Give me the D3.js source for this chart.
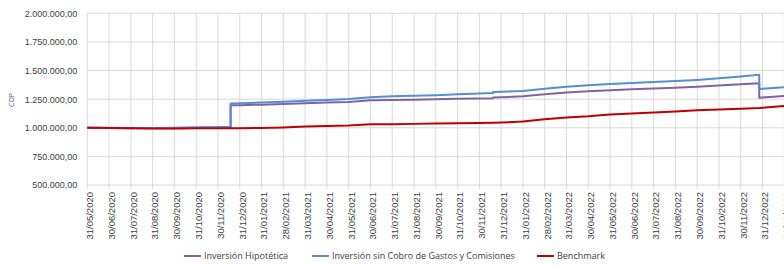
<!DOCTYPE html>
<html>
<head>
<meta charset="utf-8">
<script src="https://cdn.jsdelivr.net/npm/d3@7"></script>
<style>
  body { margin: 0; background: #fff; }
  svg { display: block; font-family: "Open Sans", "Liberation Sans", sans-serif; }
</style>
</head>
<body>
<svg id="chart"></svg>
<script>
// month-end labels on the category axis
var dateLabels = ["31/05/2020","30/06/2020","31/07/2020","31/08/2020","30/09/2020","31/10/2020","30/11/2020",
  "31/12/2020","31/01/2021","28/02/2021","31/03/2021","30/04/2021","31/05/2021","30/06/2021","31/07/2021",
  "31/08/2021","30/09/2021","31/10/2021","30/11/2021","31/12/2021","31/01/2022","28/02/2022","31/03/2022",
  "30/04/2022","31/05/2022","30/06/2022","31/07/2022","31/08/2022","30/09/2022","31/10/2022","30/11/2022",
  "31/12/2022","31/01/2023"]

var yTicks = [500000, 750000, 1000000, 1250000, 1500000, 1750000, 2000000]

// position along the axis, in months from 31/05/2020 (steps repeat a position)
var pos = [0,1,2,3,4,5,6,6.58,6.58,7,8,9,10,11,12,13,14,15,16,17,18,18.63,18.63,
  19,20,21,22,23,24,25,26,27,28,29,30,30.85,30.85,31,32]

var hipotetica = [1000000,999000,996000,995000,995000,997000,998000,999000,1196000,1197000,1202000,
  1208000,1214000,1220000,1226000,1240000,1243000,1245000,1249000,1253000,1256000,1258000,1264000,
  1266000,1275000,1292000,1308000,1318000,1328000,1336000,1342000,1350000,1358000,1370000,1380000,
  1388000,1262000,1265000,1277000]

var sinCobro = [1000000,1000000,998000,998000,1000000,1004000,1006000,1007000,1213000,1214000,1220000,
  1228000,1236000,1243000,1252000,1266000,1275000,1279000,1285000,1292000,1300000,1303000,1312000,
  1314000,1322000,1340000,1358000,1372000,1382000,1392000,1400000,1408000,1418000,1432000,1447000,
  1463000,1338000,1340000,1355000]

var benchmark = [1000000,999000,996000,994000,994000,995000,996000,996000,996000,996000,998000,
  1003000,1010000,1015000,1020000,1030000,1031000,1034000,1037000,1040000,1041000,1043000,1043000,
  1045000,1054000,1075000,1090000,1100000,1115000,1125000,1133000,1142000,1152000,1160000,1167000,
  1172000,1172000,1175000,1190000]

var seriesNames = ["Inversión Hipotética", "Inversión sin Cobro de Gastos y Comisiones", "Benchmark"]
var seriesColors = ["#8064a2", "#558ed5", "#c00000"]
var seriesValues = [hipotetica, sinCobro, benchmark]

var width = 784, height = 266
var plotLeft = 87.3, plotRight = 784.3, plotTop = 13.3, plotBottom = 185

var svg = d3.select("#chart")
    .attr("width", width)
    .attr("height", height)

var x = d3.scaleLinear().domain([0, 32]).range([plotLeft, plotRight])
var y = d3.scaleLinear().domain([500000, 2000000]).range([plotBottom, plotTop])

var fmt = d3.formatLocale({ decimal: ",", thousands: ".", grouping: [3], currency: ["", ""] }).format(",.2f")

// gridlines
svg.append("g")
    .selectAll("line")
    .data(yTicks)
    .enter().append("line")
    .attr("x1", plotLeft).attr("x2", width)
    .attr("y1", d => y(d)).attr("y2", d => y(d))
    .style("stroke", "#d9d9d9").style("stroke-width", "1px")

svg.append("g")
    .selectAll("line")
    .data(dateLabels)
    .enter().append("line")
    .attr("x1", (d, i) => x(i)).attr("x2", (d, i) => x(i))
    .attr("y1", plotTop).attr("y2", plotBottom + 4)
    .style("stroke", "#d9d9d9").style("stroke-width", "1px")

// y axis labels
var yAxis = d3.axisLeft(y).tickValues(yTicks).tickFormat(fmt).tickSize(0).tickPadding(10)
var gy = svg.append("g").attr("transform", "translate(" + plotLeft + ",0)").call(yAxis)
gy.select(".domain").remove()
gy.selectAll("text").style("font-size", "9px").style("fill", "#404040").style("font-family", null)

svg.append("text")
    .attr("transform", "translate(14,100) rotate(-90)")
    .attr("text-anchor", "middle")
    .style("font-size", "7px")
    .style("fill", "#44546a")
    .text("COP")

// x axis labels
var xAxis = d3.axisBottom(x).tickValues(d3.range(dateLabels.length)).tickFormat(i => dateLabels[i]).tickSize(0)
var gx = svg.append("g").attr("transform", "translate(0," + plotBottom + ")").call(xAxis)
gx.select(".domain").remove()
gx.selectAll("text")
    .attr("transform", "rotate(-90)")
    .attr("x", -7).attr("y", 2).attr("dy", "0.35em")
    .attr("text-anchor", "end")
    .style("font-size", "9.5px").style("fill", "#404040")

// lines
var line = d3.line()
    .x((d, i) => x(pos[i]))
    .y(d => y(d))

svg.append("g")
    .selectAll("path")
    .data(seriesValues)
    .enter().append("path")
    .attr("d", d => line(d))
    .style("fill", "none")
    .style("stroke", (d, i) => seriesColors[i])
    .style("stroke-width", "2px")
    .style("stroke-linejoin", "round")

// legend
var legendX = [184, 312, 537]
var legend = svg.append("g")
    .selectAll("g")
    .data(seriesNames)
    .enter().append("g")
    .attr("transform", (d, i) => "translate(" + legendX[i] + ",256)")
legend.append("line")
    .attr("x1", 0).attr("x2", 17)
    .style("stroke", (d, i) => seriesColors[i]).style("stroke-width", "2px")
legend.append("text")
    .attr("x", 20).attr("dy", "0.35em")
    .style("font-size", "9px").style("fill", "#404040")
    .text(d => d)
</script>
</body>
</html>
